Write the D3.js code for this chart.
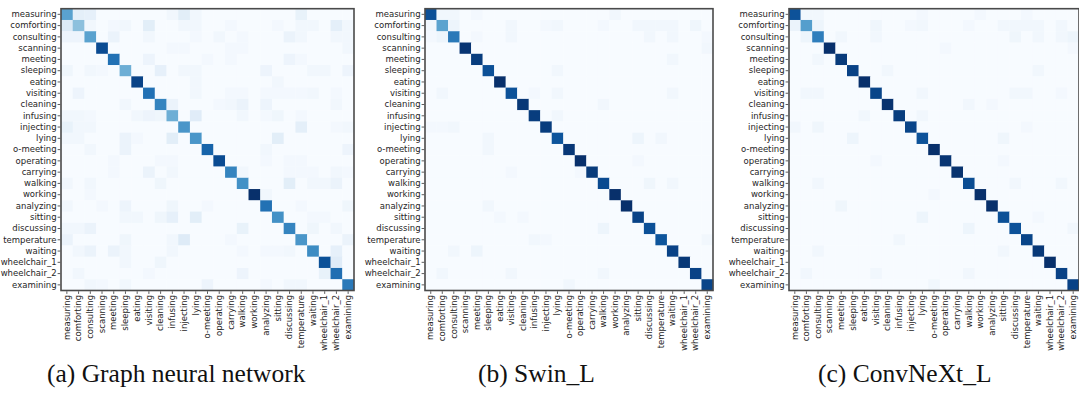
<!DOCTYPE html>
<html>
<head>
<meta charset="utf-8">
<script src="https://cdn.jsdelivr.net/npm/d3@7/dist/d3.min.js"></script>
<style>
  html, body { margin: 0; padding: 0; background: #ffffff; }
  svg { display: block; }
</style>
</head>
<body>
<svg id="chart" width="1079" height="394"></svg>
<script>
// Activity classes (rows = true label, columns = predicted label)
const categories = [
  "measuring", "comforting", "consulting", "scanning", "meeting", "sleeping",
  "eating", "visiting", "cleaning", "infusing", "injecting", "lying",
  "o-meeting", "operating", "carrying", "walking", "working", "analyzing",
  "sitting", "discussing", "temperature", "waiting", "wheelchair_1",
  "wheelchair_2", "examining"
];

// Per-class accuracy (%) on the diagonal
const gnnDiagonal = [53, 40, 53, 86, 72, 48, 89, 72, 65, 48, 58, 58, 77, 86, 65, 60, 96, 72, 60, 65, 58, 62, 84, 73, 69];
const swinDiagonal = [88, 55, 72, 98, 95, 88, 100, 87, 97, 95, 95, 86, 97, 100, 96, 90, 100, 100, 93, 88, 86, 93, 97, 93, 92];
const convnextDiagonal = [87, 57, 70, 100, 96, 93, 100, 92, 99, 95, 92, 87, 100, 98, 99, 89, 100, 100, 88, 87, 92, 97, 100, 93, 93];

// Confusions (%) as [true row, predicted column, value]
const gnnConfusions = [
  [0,1,9],[0,2,8],[0,9,3],[0,10,10],[0,11,3],[0,20,7],
  [1,0,13],[1,2,3],[1,4,2],[1,5,3],[1,7,10],[1,10,3],[1,11,3],[1,14,2],[1,18,2],[1,20,3],[1,21,3],[1,23,9],[1,24,3],
  [2,0,5],[2,1,5],[2,4,6],[2,7,3],[2,11,2],[2,13,3],[2,15,2],[2,19,6],[2,20,3],[2,23,3],[2,24,3],
  [3,9,2],[3,10,2],[3,14,2],[3,15,2],[3,24,3],
  [4,7,5],[4,12,2],[4,14,2],[4,19,5],[4,20,2],
  [5,0,4],[5,2,3],[5,3,2],[5,8,8],[5,10,3],[5,11,3],[5,17,5],[5,21,3],[5,22,3],[5,24,5],
  [6,11,3],[6,18,3],
  [7,1,5],[7,11,3],[7,14,2],[7,15,2],[7,17,2],[7,18,2],[7,19,2],[7,20,2],[7,21,3],[7,23,2],
  [8,5,3],[8,9,6],[8,13,2],[8,14,3],[8,15,6],[8,17,5],[8,23,3],
  [9,0,3],[9,1,3],[9,2,2],[9,6,3],[9,7,5],[9,8,4],[9,11,11],[9,15,3],[9,17,2],[9,18,4],[9,20,2],
  [10,0,7],[10,1,3],[10,2,3],[10,20,9],[10,23,2],[10,24,3],
  [11,0,3],[11,1,3],[11,5,6],[11,6,2],[11,9,10],[11,18,10],
  [12,2,3],[12,5,6],[12,17,3],[12,24,5],
  [13,4,2],[13,8,2],[13,9,2],[13,17,2],[13,19,2],[13,20,2],
  [14,4,2],[14,7,6],[14,9,3],[14,15,3],[14,19,2],[14,20,2],[14,21,2],[14,23,3],[14,24,2],
  [15,0,3],[15,2,3],[15,8,4],[15,19,10],[15,21,3],[15,22,3],[15,23,6],
  [16,2,2],[16,17,3],
  [17,0,3],[17,3,2],[17,5,5],[17,9,4],[17,12,2],[17,20,2],[17,24,4],
  [18,5,3],[18,6,3],[18,8,4],[18,9,8],[18,11,10],[18,21,2],[18,22,2],
  [19,0,3],[19,1,3],[19,2,6],[19,15,7],[19,21,4],[19,23,3],
  [20,0,6],[20,5,4],[20,9,3],[20,10,12],[20,14,2],[20,24,6],
  [21,1,3],[21,2,6],[21,4,6],[21,5,3],[21,9,3],[21,15,2],[21,17,2],[21,18,2],[21,19,3],[21,23,8],
  [22,5,3],[22,8,4],[22,23,11],
  [23,1,3],[23,7,2],[23,15,5],[23,22,7],
  [24,2,3],[24,3,2],[24,5,3],[24,12,5],[24,17,2],[24,19,3],[24,20,3]
];
const swinConfusions = [
  [0,1,3],[0,2,3],[0,4,2],[0,16,3],
  [1,0,3],[1,2,5],[1,7,3],[1,10,2],[1,11,3],[1,15,2],[1,18,3],[1,19,3],[1,20,3],[1,21,3],[1,23,4],
  [2,0,2],[2,1,5],[2,4,2],[2,7,3],[2,19,3],[2,21,3],[2,24,2],
  [3,24,3],
  [4,21,3],
  [5,11,3],
  [7,1,3],[7,9,2],[7,11,3],[7,21,3],
  [8,15,3],
  [9,11,3],
  [10,0,2],[10,1,2],[10,2,3],
  [11,5,3],[11,18,5],[11,20,3],
  [12,5,3],
  [13,18,2],
  [14,7,2],[14,13,2],
  [15,19,4],[15,21,3],
  [17,5,3],
  [18,6,2],[18,8,2],
  [19,15,5],
  [20,9,3],[20,10,2],[20,24,3],
  [21,2,3],[21,4,5],
  [23,1,3],[23,7,3],[23,15,3],
  [24,12,3]
];
const convnextConfusions = [
  [0,1,3],[0,2,3],[0,11,2],[0,16,2],[0,20,2],
  [1,0,6],[1,2,5],[1,7,4],[1,10,2],[1,11,3],[1,15,2],[1,18,3],[1,19,3],[1,20,3],[1,21,3],[1,23,3],
  [2,1,5],[2,4,3],[2,7,3],[2,19,4],[2,21,3],[2,23,3],[2,24,5],
  [3,13,2],[3,24,2],
  [4,2,3],
  [5,8,3],[5,21,3],
  [7,1,3],[7,2,3],[7,11,3],[7,19,3],[7,20,3],[7,23,2],
  [8,15,3],[8,17,2],
  [9,6,3],[9,11,3],
  [10,0,3],[10,2,4],[10,20,2],
  [11,5,5],[11,18,4],
  [13,7,2],[13,18,2],
  [15,2,3],[15,19,3],[15,23,3],
  [16,12,2],
  [17,4,4],
  [18,11,5],[18,21,2],
  [19,15,5],[19,24,3],
  [20,9,3],
  [21,2,3],[21,18,3],
  [23,1,3],[23,7,3],[23,15,3],
  [24,12,3]
];

const captions = ["(a) Graph neural network", "(b) Swin_L", "(c) ConvNeXt_L"];

// Panel geometry
const panels = [
  { diag: gnnDiagonal, off: gnnConfusions, x0: 61, w: 293, capX: 47 },
  { diag: swinDiagonal, off: swinConfusions, x0: 425, w: 288, capX: 478 },
  { diag: convnextDiagonal, off: convnextConfusions, x0: 789, w: 290, capX: 818 }
];
const plotTop = 8.7, plotHeight = 281.8;

function buildMatrix(diag, off) {
  const n = categories.length;
  const m = [];
  for (let r = 0; r < n; r++) {
    for (let c = 0; c < n; c++) m.push({ r, c, v: r === c ? diag[r] : 0 });
  }
  off.forEach(([r, c, v]) => { m[r * n + c].v = v; });
  return m;
}

const svg = d3.select("#chart");
const tickFont = "'DejaVu Sans', sans-serif";
const tickSize = 8.5;

panels.forEach((p, i) => {
  const cells = buildMatrix(p.diag, p.off);
  const x = d3.scaleBand().domain(categories).range([p.x0, p.x0 + p.w]);
  const y = d3.scaleBand().domain(categories).range([plotTop, plotTop + plotHeight]);
  const color = d3.scaleSequential(d3.interpolateBlues)
    .domain([0, d3.max(cells, d => d.v)]);

  const g = svg.append("g");

  g.append("g").selectAll("rect")
    .data(cells)
    .join("rect")
    .attr("x", d => x(categories[d.c]))
    .attr("y", d => y(categories[d.r]))
    .attr("width", x.bandwidth() + 0.3)
    .attr("height", y.bandwidth() + 0.3)
    .attr("fill", d => color(d.v));

  // frame
  g.append("rect")
    .attr("x", p.x0)
    .attr("y", plotTop)
    .attr("width", p.w)
    .attr("height", plotHeight)
    .attr("fill", "none")
    .attr("stroke", "#4a4a4a")
    .attr("stroke-width", 1.6);

  const yAxis = g.append("g")
    .attr("transform", `translate(${p.x0 - 0.8},0)`)
    .call(d3.axisLeft(y).tickSize(2.6).tickPadding(1));
  yAxis.select(".domain").remove();
  yAxis.selectAll("line").attr("stroke", "#333").attr("stroke-width", 0.8);
  yAxis.selectAll("text")
    .attr("font-family", tickFont)
    .attr("font-size", tickSize)
    .attr("fill", "#262626");

  const xAxis = g.append("g")
    .attr("transform", `translate(0,${plotTop + plotHeight + 0.8})`)
    .call(d3.axisBottom(x).tickSize(2.6).tickPadding(1));
  xAxis.select(".domain").remove();
  xAxis.selectAll("line").attr("stroke", "#333").attr("stroke-width", 0.8);
  xAxis.selectAll("text")
    .attr("font-family", tickFont)
    .attr("font-size", tickSize)
    .attr("fill", "#262626")
    .attr("transform", "rotate(-90)")
    .attr("text-anchor", "end")
    .attr("x", -3.6)
    .attr("y", 0)
    .attr("dy", "0.32em");

  svg.append("text")
    .attr("x", p.capX)
    .attr("y", 382)
    .attr("font-family", "'Liberation Serif', 'Times New Roman', serif")
    .attr("font-size", 25.5)
    .attr("fill", "#111")
    .text(captions[i]);
});
</script>
</body>
</html>
